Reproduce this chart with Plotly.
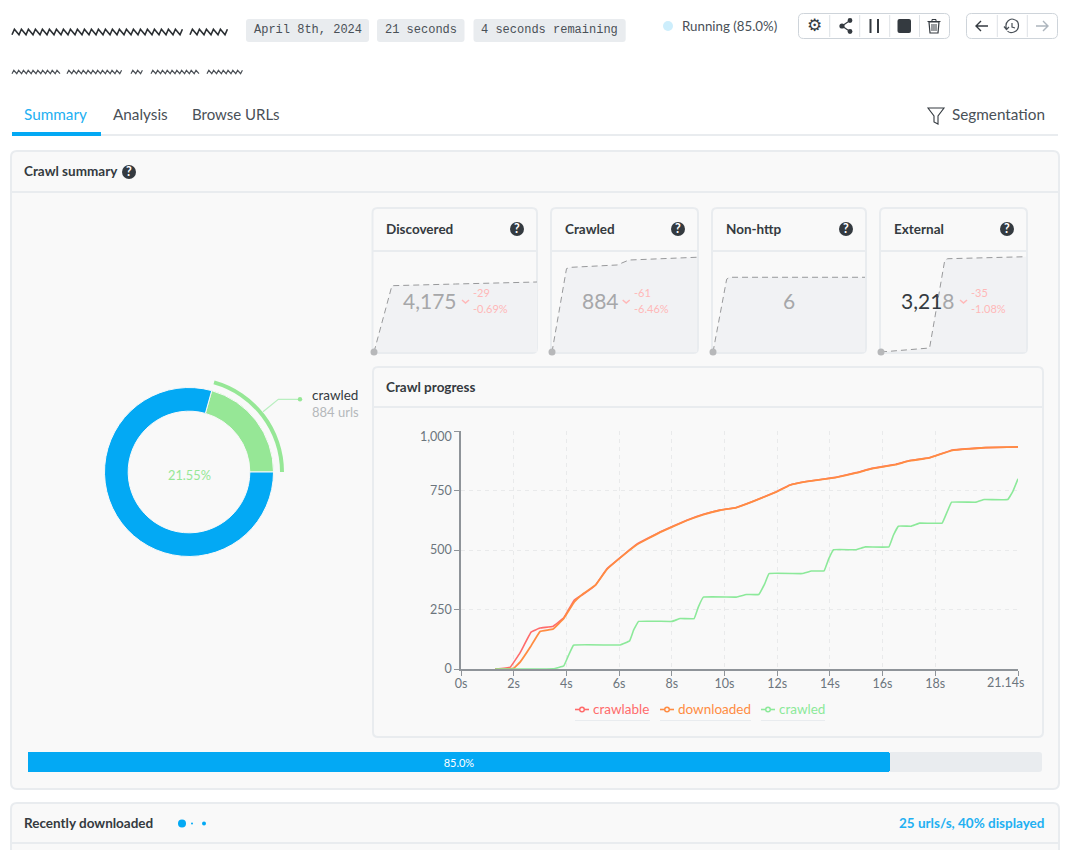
import re
import plotly.graph_objects as go

W = 1071
H = 850
FONT = "Lato"

# crawl progress, seconds / urls
crawlable_t = [1.3, 1.87, 2.25, 2.66, 3.0, 3.5, 3.9, 4.3, 4.65, 5.1, 5.53, 6.04, 6.67, 7.55, 8.57, 9.2, 9.83, 10.45,
               11.09, 11.97, 12.48, 13.1, 14.2, 15.0, 15.6, 16.5, 17.0, 17.77, 18.65, 19.3, 19.9, 21.14]
crawlable_v = [0, 8, 70, 155, 172, 180, 215, 290, 315, 352, 420, 468, 525, 576, 625, 650, 668, 679,
               705, 745, 773, 788, 805, 825, 843, 860, 875, 888, 920, 926, 930, 933]
downloaded_t = [1.3, 2.0, 2.25, 2.63, 3.0, 3.5, 3.9, 4.3, 4.65, 5.1, 5.53, 6.04, 6.67, 7.55, 8.57, 9.2, 9.83, 10.45,
                11.09, 11.97, 12.48, 13.1, 14.2, 15.0, 15.6, 16.5, 17.0, 17.77, 18.65, 19.3, 19.9, 21.14]
downloaded_v = [0, 3, 30, 92, 158, 168, 212, 282, 317, 352, 418, 467, 522, 574, 624, 649, 667, 678,
                704, 744, 772, 787, 804, 824, 842, 859, 874, 887, 919, 925, 930, 933]
crawled_t = [1.3, 3.5, 3.9, 4.08, 4.27, 6.04, 6.4, 6.55, 6.74, 8.0, 8.32, 8.85, 9.01, 9.2, 10.45, 10.83, 11.3, 11.53,
             11.69, 12.95, 13.3, 13.78, 13.96, 14.14, 15.0, 15.35, 16.24, 16.41, 16.6, 17.08, 17.4, 18.26, 18.45,
             18.62, 19.55, 19.86, 20.75, 20.94, 21.14]
crawled_v = [0, 1, 13, 57, 100, 101, 118, 163, 200, 200, 212, 212, 261, 302, 302, 313, 313, 359,
             401, 401, 412, 412, 464, 501, 501, 513, 513, 562, 600, 600, 613, 613, 660,
             701, 701, 712, 712, 745, 799]
x_ticks = [0, 2, 4, 6, 8, 10, 12, 14, 16, 18, 21.14]
x_labels = ["0s", "2s", "4s", "6s", "8s", "10s", "12s", "14s", "16s", "18s", "21.14s"]
y_ticks = [0, 250, 500, 750, 1000]
y_labels = ["0", "250", "500", "750", "1,000"]

# donut
donut_labels = ["crawled", "other"]
donut_values = [884, 3393]

# sparklines of the four cards
disc_x = [0, 0.11, 0.5, 1]
disc_y = [0, 3954, 4055, 4175]
crawl_x = [0, 0.10, 0.13, 0.45, 0.53, 1]
crawl_y = [0, 778, 790, 812, 858, 884]
nonhttp_x = [0, 0.09, 0.11, 1]
nonhttp_y = [0, 5.85, 6, 6]
ext_x = [0, 0.335, 0.44, 0.46, 1]
ext_y = [0, 135, 3107, 3150, 3218]

progress = [85]

BLUE = "#03a9f4"
RED = "#ff6b6b"
ORANGE = "#ff8c42"
GREEN = "#8ce99a"
DONUT_GREEN = "#96e796"
DARK = "#343a40"
BORDER = "#e9ecef"
PANEL = "#f9f9f9"
TICK = "#6c757d"


def P(s):
    # path written in page pixels -> paper coords
    out = []
    i = 0
    for tok in s.split():
        if re.match(r"^[A-Z]$", tok):
            out.append(tok)
        else:
            v = float(tok)
            out.append(str(round(v / W if i % 2 == 0 else 1 - v / H, 5)))
            i += 1
    return " ".join(out)


def rrect(x0, y0, x1, y1, r):
    return P(f"M {x0+r} {y0} L {x1-r} {y0} Q {x1} {y0} {x1} {y0+r} L {x1} {y1-r} Q {x1} {y1} {x1-r} {y1} "
             f"L {x0+r} {y1} Q {x0} {y1} {x0} {y1-r} L {x0} {y0+r} Q {x0} {y0} {x0+r} {y0} Z")


shapes = []
notes = []


def box(x0, y0, x1, y1, r=4, fill=None, line=None, lw=1, layer="below"):
    shapes.append(dict(type="path", path=rrect(x0, y0, x1, y1, r), xref="paper", yref="paper", layer=layer,
                       fillcolor=fill or "rgba(0,0,0,0)", line=dict(color=line or "rgba(0,0,0,0)", width=lw if line else 0)))


def stroke(s, color=DARK, lw=1.5, fill=None, layer="above"):
    shapes.append(dict(type="path", path=P(s), xref="paper", yref="paper", layer=layer,
                       fillcolor=fill or "rgba(0,0,0,0)", line=dict(color=color, width=lw)))


def dot(x, y, r, color, layer="above"):
    shapes.append(dict(type="circle", xref="paper", yref="paper", x0=(x-r)/W, x1=(x+r)/W, y0=1-(y+r)/H, y1=1-(y-r)/H,
                       fillcolor=color, line=dict(width=0), layer=layer))


def txt(x, y, s, size=13, color=DARK, anchor="left", font=FONT):
    # annotations sit about a pixel off from where they are asked to be
    if anchor == "left":
        x -= 1
    notes.append(dict(x=x/W, y=1-(y-0.8)/H, xref="paper", yref="paper", text=s, showarrow=False, xanchor=anchor,
                      yanchor="middle", borderpad=0, font=dict(size=size, color=color, family=font)))


def help_icon(x, y):
    dot(x, y, 7, DARK)
    txt(x, y + 0.5, "<b>?</b>", 12.5, "white", "center")


def scribble(spans, y, amp, lw, color, step=(4.6, 2.4)):
    # the blurred out titles in the reference
    for x0, x1 in spans:
        pts = []
        x = x0
        up = False
        while x < x1:
            pts.append(f"{x} {y + (-amp if up else amp)}")
            x += step[0] if up else step[1]
            up = not up
        stroke("M " + " L ".join(pts), color, lw)


# header
scribble([(12, 186), (190, 229)], 32, 2.8, 1.6, "#2b2f33")
scribble([(12, 60), (67, 124), (131, 143), (151, 200), (207, 245)], 72, 1.7, 1.2, "#4a4f55", (3, 1.8))
for x0, x1, s in [(246, 369, "April 8th, 2024"), (377, 464.5, "21 seconds"), (473.5, 625.7, "4 seconds remaining")]:
    box(x0, 19, x1, 42, 3, fill=BORDER)
    txt((x0 + x1) / 2, 31, s, 12, "#495057", "center", "Liberation Mono")
dot(668, 26, 5, "#cdeefc")
txt(682, 26.5, "Running (85.0%)", 13.3, "#495057")

# button groups
box(798.5, 13.5, 949.5, 38.5, 5, fill="white", line="#ced4da")
box(966.5, 13.5, 1057.5, 38.5, 5, fill="white", line="#ced4da")
for x in [829.7, 859.7, 889.7, 919.5, 997.3, 1027.3]:
    stroke(f"M {x} 15 L {x} 37", "#dee2e6", 1)
txt(814, 26, "⚙", 17, DARK, "center", "DejaVu Sans")
stroke("M 850 20.5 L 842 26 L 850 31.5", DARK, 1.2)
dot(842, 26, 2.6, DARK)
dot(850, 20.5, 2.4, DARK)
dot(850, 31.5, 2.4, DARK)
stroke("M 870.5 19 L 870.5 33", DARK, 2)
stroke("M 878 19 L 878 33", DARK, 2)
box(897.5, 19, 911, 33, 2, fill=DARK, layer="above")
stroke("M 929 22 L 939 22 L 938 33 L 930 33 Z", DARK, 1.2)
stroke("M 927.5 21.5 L 940.5 21.5 M 932 21 L 932 19.5 L 936 19.5 L 936 21 M 932 24 L 932 31 M 934 24 L 934 31 M 936 24 L 936 31", DARK, 1)
stroke("M 988 26 L 976 26 M 981 21 L 976 26 L 981 31", DARK, 1.4)
stroke("M 1006.5 29 C 1004 21 1011 18 1014 19.5 C 1020 21 1020 30 1014 32 C 1011 33 1009 33 1007.5 31 M 1004 26.5 L 1006.5 29.5 L 1009 27 M 1012 23 L 1012 27 L 1015 28", "#495057", 1.2)
stroke("M 1036 26 L 1048 26 M 1043 21 L 1048 26 L 1043 31", "#adb5bd", 1.4)

# tabs
txt(24, 115, "Summary", 15.3, "#22b0f2")
txt(113, 115, "Analysis", 15.3, "#495057")
txt(192, 115, "Browse URLs", 15, "#495057")
txt(952, 115, "Segmentation", 15.3, "#495057")
stroke("M 928 108 L 944 108 L 938 116 L 938 124 L 934 122 L 934 116 Z", DARK, 1.1)
stroke("M 12 135 L 1058 135", BORDER, 2, layer="below")
stroke("M 12 134 L 101 134", BLUE, 4, layer="below")

# main panel
box(11, 151, 1059, 789, 6, fill=PANEL, line=BORDER, lw=2)
stroke("M 12 192 L 1058 192", BORDER, 2, layer="below")
txt(24, 171.5, "<b>Crawl summary</b>", 13.5, DARK)
help_icon(129, 172)

# cards
cards = [
    (372.5, 537, "Discovered", 517, "4,175", 430, "-29", "-0.69%", 473),
    (551, 698, "Crawled", 678, "884", 600, "-61", "-6.46%", 633.7),
    (712, 866, "Non-http", 846, "6", 789, None, None, None),
    (880, 1027, "External", 1007, "3,21<span style='color:#a6a7a9'>8</span>", 928, "-35", "-1.08%", 971),
]
for x0, x1, name, hx, val, vx, d1, d2, dx in cards:
    box(x0, 208, x1, 353, 5, fill=PANEL, line=BORDER, lw=2)
    stroke(f"M {x0} 251 L {x1} 251", BORDER, 2, layer="below")
    txt(x0 + 13.5, 229.5, f"<b>{name}</b>", 13.5, DARK)
    help_icon(hx, 229)
    col = DARK if name == "External" else "#a6a7a9"
    txt(vx, 301, val, 21, col, "center")
    if d1:
        txt(dx, 293, d1, 11, "#ffb8b8")
        txt(dx, 309, d2, 11, "#ffb8b8")
        stroke(f"M {dx-11} 300 L {dx-7.5} 303 L {dx-4} 300", "#ffb8b8", 1.5)

# crawl progress panel
box(373, 367, 1043, 737, 5, fill=PANEL, line=BORDER, lw=2)
stroke("M 374 407 L 1042 407", BORDER, 2, layer="below")
txt(386, 387.5, "<b>Crawl progress</b>", 13.5, DARK)

# donut callout
stroke("M 263 411.7 L 278.3 399.3 L 300 399.3", "#b9efc0", 1.2)
dot(300, 399.3, 2.2, DONUT_GREEN)
txt(312, 395.5, "crawled", 13.5, DARK)
txt(312, 413, "884 urls", 13, "#b5b8bb")
txt(189, 476, "21.55%", 12.8, DONUT_GREEN, "center")

# progress bar + bottom panel
box(28, 752, 1042, 772, 3, fill=BORDER)
box(11, 803, 1059, 880, 6, fill=PANEL, line=BORDER, lw=2)
stroke("M 12 843 L 1058 843", BORDER, 2, layer="below")
txt(24, 823.5, "<b>Recently downloaded</b>", 13.5, DARK)
dot(182, 823.5, 4, BLUE)
dot(192, 823.5, 1, BLUE)
dot(204, 823.5, 2, BLUE)
txt(1046, 824, "<b>25 urls/s, 40% displayed</b>", 13.5, "#22b0f2", "right")

# hand placed legend, the small line icons don't fit plotly's own legend
for x0, tx, x1, s, c in [(575, 592.5, 650, "crawlable", RED), (660, 677.5, 751, "downloaded", ORANGE), (761, 778.5, 825, "crawled", GREEN)]:
    stroke(f"M {x0} 709.5 L {x0+14} 709.5", c, 1.6)
    dot(x0 + 7, 709.5, 3, c)
    dot(x0 + 7, 709.5, 1.5, PANEL)
    txt(tx, 709.5, s, 13.5, c)
    stroke(f"M {x0} 720.5 L {x1} 720.5", "#e9ecef", 1)

# the two end labels are pulled inside the plot in the reference
txt(1005, 683, x_labels[-1], 12.5, TICK, "center")
txt(453, 437, y_labels[-1], 12.5, TICK, "right")

fig = go.Figure()

# donut and the thin arc around the crawled slice
fig.add_trace(go.Pie(labels=donut_labels, values=donut_values, hole=0.72, sort=False, direction="clockwise",
                     rotation=15.6, textinfo="none", showlegend=False,
                     marker=dict(colors=[DONUT_GREEN, BLUE], line=dict(color="#f9f9f9", width=1)),
                     domain=dict(x=[104.5/W, 273.5/W], y=[1-556.5/H, 1-387.5/H])))
fig.add_trace(go.Pie(labels=donut_labels, values=donut_values, hole=0.958, sort=False, direction="clockwise",
                     rotation=15.6, textinfo="none", showlegend=False,
                     marker=dict(colors=[DONUT_GREEN, "rgba(0,0,0,0)"], line=dict(width=0)),
                     domain=dict(x=[94/W, 284/W], y=[1-567/H, 1-377/H])))

for name, t, v, c, lw in [("crawlable", crawlable_t, crawlable_v, RED, 1.6),
                          ("downloaded", downloaded_t, downloaded_v, ORANGE, 1.8),
                          ("crawled", crawled_t, crawled_v, GREEN, 1.6)]:
    fig.add_trace(go.Scatter(x=t, y=v, name=name, mode="lines", showlegend=False, cliponaxis=False,
                             line=dict(color=c, width=lw, shape="spline", smoothing=0.2), xaxis="x", yaxis="y"))

sparks = [(disc_x, disc_y, 2, 374, 537, 5964), (crawl_x, crawl_y, 3, 552, 697, 933),
          (nonhttp_x, nonhttp_y, 4, 713, 865, 8.03), (ext_x, ext_y, 5, 881, 1026, 3377)]
layout_axes = {}
for sx, sy, n, x0, x1, top in sparks:
    fig.add_trace(go.Scatter(x=sx, y=sy, mode="lines", fill="tozeroy", fillcolor="#f1f2f4", showlegend=False,
                             line=dict(color="#98999b", width=1, dash="6px,4px"), xaxis=f"x{n}", yaxis=f"y{n}"))
    fig.add_trace(go.Scatter(x=sx[:1], y=sy[:1], mode="markers", showlegend=False, cliponaxis=False,
                             marker=dict(color="#b7b8ba", size=7), xaxis=f"x{n}", yaxis=f"y{n}"))
    layout_axes[f"xaxis{n}"] = dict(domain=[x0/W, x1/W], range=[0, 1], visible=False, anchor=f"y{n}", automargin=False)
    layout_axes[f"yaxis{n}"] = dict(domain=[1-352/H, 1-252/H], range=[0, top], visible=False, anchor=f"x{n}", automargin=False)

# progress bar
fig.add_trace(go.Bar(x=progress, y=["progress"], orientation="h", showlegend=False, text=["85.0%"],
                     textposition="inside", insidetextanchor="middle", textangle=0,
                     insidetextfont=dict(color="white", size=11, family=FONT),
                     marker=dict(color=BLUE, cornerradius=3, line=dict(width=0)), xaxis="x6", yaxis="y6"))
layout_axes["xaxis6"] = dict(domain=[28/W, 1042/W], range=[0, 100], visible=False, anchor="y6", automargin=False)
layout_axes["yaxis6"] = dict(domain=[1-772/H, 1-752/H], visible=False, anchor="x6", automargin=False)

fig.update_layout(
    width=W, height=H, margin=dict(l=0, r=0, t=0, b=0), autosize=False,
    paper_bgcolor="white", plot_bgcolor="rgba(0,0,0,0)", showlegend=False, bargap=0,
    font=dict(family=FONT, size=13, color=TICK),
    shapes=shapes, annotations=notes,
    xaxis=dict(domain=[461/W, 1018/W], range=[0, 21.14], tickmode="array", tickvals=x_ticks,
               ticktext=x_labels[:-1] + [""], ticklabelstandoff=-3,
               showline=True, linecolor="#8f9499", linewidth=1.5, ticks="outside", ticklen=5, tickcolor="#8f9499",
               showgrid=True, gridcolor="#e9eaeb", griddash="4px,4px", zeroline=False, automargin=False,
               tickfont=dict(size=12.5, color=TICK)),
    yaxis=dict(domain=[1-669/H, 1-431/H], range=[0, 1000], tickmode="array", tickvals=y_ticks,
               ticktext=y_labels[:-1] + [""],
               showline=True, linecolor="#8f9499", linewidth=1.5, ticks="outside", ticklen=5, tickcolor="#8f9499",
               showgrid=True, gridcolor="#e9eaeb", griddash="4px,4px", zeroline=False, automargin=False,
               tickfont=dict(size=12.5, color=TICK)),
    **layout_axes,
)

# the body margin would shift the whole page by 8px
fig.write_html("out.html", config=dict(displayModeBar=False),
               post_script="document.body.style.margin='0';document.body.style.overflow='hidden';")
